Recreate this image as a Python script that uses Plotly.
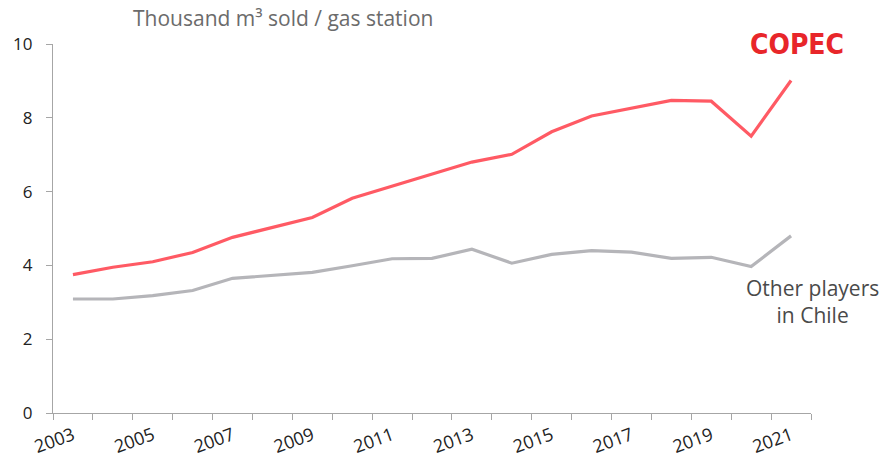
import plotly.graph_objects as go

years = list(range(2003, 2022))
copec = [3.75, 3.95, 4.10, 4.35, 4.76, 5.03, 5.30, 5.82, 6.15, 6.47, 6.80, 7.01, 7.62, 8.05, 8.27, 8.47, 8.45, 7.50, 9.01]
others = [3.09, 3.09, 3.18, 3.32, 3.65, 3.74, 3.81, 3.99, 4.18, 4.19, 4.44, 4.06, 4.30, 4.40, 4.36, 4.19, 4.22, 3.97, 4.80]
tick_years = [2003, 2005, 2007, 2009, 2011, 2013, 2015, 2017, 2019, 2021]
y_ticks = [0, 2, 4, 6, 8, 10]

FONT = "Open Sans"
L, R, T, B = 53, 71, 44, 48.5
W, H = 882, 462
PW, PH = W - L - R, H - T - B

fig = go.Figure()
fig.add_trace(go.Scatter(x=years, y=others, mode="lines", line=dict(color="#B5B5B9", width=3.2),
                         name="Other players in Chile", showlegend=False))
fig.add_trace(go.Scatter(x=years, y=copec, mode="lines", line=dict(color="#FF5A64", width=3.2),
                         name="COPEC", showlegend=False))

fig.update_layout(
    width=W, height=H,
    margin=dict(l=L, r=R, t=T, b=B, autoexpand=False),
    plot_bgcolor="white", paper_bgcolor="white",
    font=dict(family=FONT, color="#222222", size=17),
    xaxis=dict(
        range=[2002.5, 2021.5], tickvals=tick_years, ticktext=[str(y) for y in tick_years],
        tickangle=-20, showgrid=False, zeroline=False,
        showline=True, linecolor="#A6A6A6", linewidth=1.3,
        ticks="", tickfont=dict(size=18, color="#222222"), ticklabelstandoff=4,
        minor=dict(tick0=2002.5, dtick=1, ticks="outside", ticklen=6, tickcolor="#A6A6A6", tickwidth=1.3, showgrid=False),
    ),
    yaxis=dict(
        range=[0, 10], tickvals=y_ticks, showgrid=False, zeroline=False,
        showline=True, linecolor="#A6A6A6", linewidth=1.3,
        ticks="outside", ticklen=6, tickcolor="#A6A6A6", tickwidth=1.3,
        tickfont=dict(size=17, color="#222222"), ticklabelstandoff=10,
    ),
    annotations=[
        dict(text="Thousand m³ sold / gas station", xref="paper", yref="paper", x=(131 - L) / PW, y=1,
             yshift=26, xanchor="left", yanchor="middle", showarrow=False,
             font=dict(family=FONT, size=21, color="#6B6B6B")),
        dict(text="<b>COPEC</b>", xref="paper", yref="paper", x=(797 - L) / PW, y=(H - B - 44.5) / PH,
             xanchor="center", yanchor="middle", showarrow=False,
             font=dict(family="DejaVu Sans Condensed", size=28, color="#E8262A")),
        dict(text="Other players<br>in Chile", xref="paper", yref="y", x=(812 - L) / PW, y=3.01,
             xanchor="center", yanchor="middle", showarrow=False, align="center",
             font=dict(family=FONT, size=21, color="#4A4A4A")),
    ],
)

fig.write_html("out.html", config={"displayModeBar": False},
               post_script="document.body.style.margin='0';document.body.style.overflow='hidden';")
